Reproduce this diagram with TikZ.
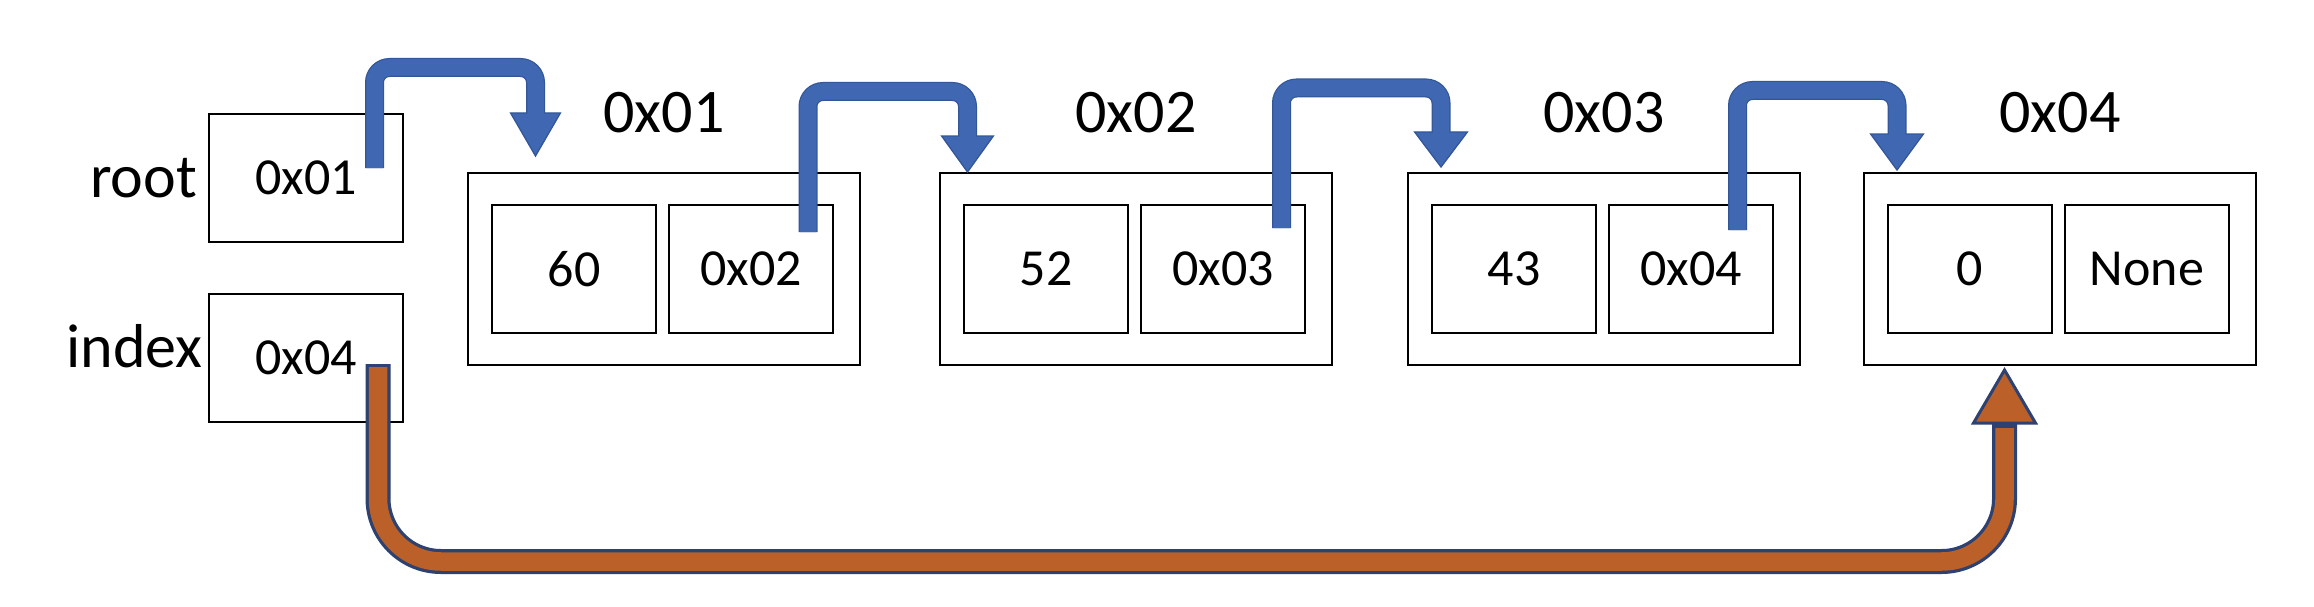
\documentclass[tikz,border=0pt]{standalone}
\usepackage{fontspec}
\setmainfont{Carlito}
\definecolor{bluefill}{RGB}{64,104,178}
\definecolor{bluedark}{RGB}{50,86,152}
\definecolor{orangefill}{RGB}{186,96,40}
\definecolor{navyline}{RGB}{45,66,112}
\begin{document}
\begin{tikzpicture}[x=1pt,y=-1pt,
  boxline/.style={draw=black, line width=1.6pt, inner sep=0pt},
  ptrbox/.style={boxline, minimum width=194pt, minimum height=128pt, font=\fontsize{52}{60}\selectfont},
  outerbox/.style={boxline, minimum width=392pt, minimum height=192pt},
  cell/.style={boxline, minimum width=164pt, minimum height=128pt, font=\fontsize{52}{60}\selectfont},
  lbl/.style={inner sep=0pt, font=\fontsize{62}{70}\selectfont},
  blueout/.style={draw=bluedark, line width=19pt, rounded corners=15pt},
  bluein/.style={draw=bluefill, line width=16.5pt, rounded corners=15pt},
  bluehead/.style={fill=bluefill, draw=bluedark, line width=1.3pt, line join=miter},
  orangeout/.style={draw=navyline, line width=25pt, rounded corners=63pt},
  orangein/.style={draw=orangefill, line width=18.5pt, rounded corners=63pt},
  orangehead/.style={fill=orangefill, draw=navyline, line width=3pt, line join=miter},
]
\useasboundingbox (0,0) rectangle (2314,607);

% pointer variables
\node[ptrbox] (root) at (306,178) {0x01};
\node[ptrbox] (index) at (306,358) {0x04};
\node[lbl, anchor=base east] (rootlbl) at (197,197) {root};
\node[lbl, anchor=base east] (indexlbl) at (203,367) {index};

% list nodes
\foreach \i/\L/\v/\p in {1/468/60/0x02, 2/940/52/0x03, 3/1408/43/0x04, 4/1864/0/None} {
  \node[outerbox] (n\i) at (\L+196,269) {};
  \node[cell] (n\i v) at (\L+106,269) {\v};
  \node[cell] (n\i p) at (\L+283,269) {\p};
  \node[lbl, anchor=base] (n\i lbl) at (\L+196,132) {0x0\i};
}

% arrow endpoints
\coordinate (a1s) at (374.5,168);  \coordinate (a1t) at (535.5,156);
\coordinate (a2s) at (808,232);    \coordinate (a2t) at (967.5,172);
\coordinate (a3s) at (1281.5,228); \coordinate (a3t) at (1441,167);
\coordinate (a4s) at (1737.5,230); \coordinate (a4t) at (1897,170);

% arrow 1: root -> node 1
\draw[blueout] (a1s) |- (535.5,67.5) -- (535.5,113);
\filldraw[bluehead] (510.6,113) -- (560.4,113) -- (a1t) -- cycle;
\draw[bluein] (a1s) |- (535.5,67.5) -- (535.5,117);

% arrow 2: node 1 -> node 2
\draw[blueout] (a2s) |- (967.5,91.5) -- (967.5,136);
\filldraw[bluehead] (941.6,136) -- (993.4,136) -- (a2t) -- cycle;
\draw[bluein] (a2s) |- (967.5,91.5) -- (967.5,140);

% arrow 3: node 2 -> node 3
\draw[blueout] (a3s) |- (1441,88) -- (1441,132);
\filldraw[bluehead] (1414.6,132) -- (1467.4,132) -- (a3t) -- cycle;
\draw[bluein] (a3s) |- (1441,88) -- (1441,136);

% arrow 4: node 3 -> node 4
\draw[blueout] (a4s) |- (1897,90.5) -- (1897,134);
\filldraw[bluehead] (1870.6,134) -- (1923.4,134) -- (a4t) -- cycle;
\draw[bluein] (a4s) |- (1897,90.5) -- (1897,138);

% orange arrow: index -> node 4
\coordinate (os) at (378,367);
\coordinate (ot) at (2004.5,370);
\draw[orangeout] ([yshift=3pt]os) -- (378,561.5) -- (2004.5,561.5) -- (2004.5,423);
\filldraw[orangehead] (1973.5,423) -- (2035.5,423) -- (ot) -- cycle;
\draw[orangein] (os) -- (378,561.5) -- (2004.5,561.5) -- (2004.5,428);
\end{tikzpicture}
\end{document}
